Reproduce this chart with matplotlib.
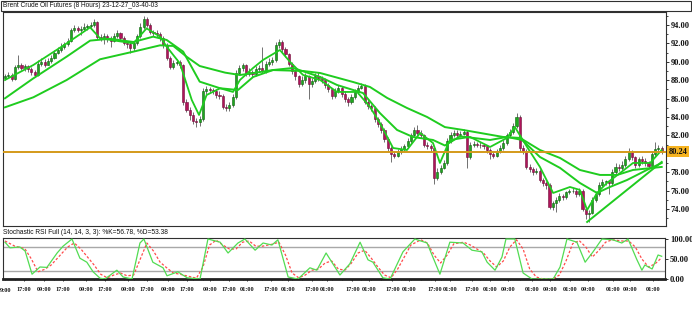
import matplotlib
matplotlib.use("Agg")
import matplotlib.pyplot as plt
import matplotlib.transforms as mtransforms
from matplotlib.patches import Rectangle
import numpy as np

# 8 hour bars, oldest first
opens = [
    88.2, 88.4, 88.6, 88.1, 89.4, 89.6, 89.3, 89.5, 89.2, 88.9,
    88.6, 89.8, 90.0, 89.7, 90.1, 90.4, 91.0, 91.3, 91.6, 91.9,
    92.3, 93.4, 93.7, 93.5, 93.6, 93.8, 93.9, 94.0, 94.3, 92.7,
    92.6, 92.8, 92.5, 92.3, 92.8, 93.1, 92.6, 92.0, 91.9, 91.5,
    92.0, 92.8, 93.8, 94.7, 94.0, 93.2, 93.1, 93.0, 92.6, 91.8,
    90.4, 89.4, 89.9, 90.0, 89.6, 85.6, 84.8, 84.2, 83.6, 83.5,
    83.8, 86.8, 87.0, 86.9, 86.8, 86.4, 86.3, 85.1, 85.0, 85.3,
    86.2, 88.8, 89.3, 89.6, 88.7, 88.9, 88.7, 89.2, 89.3, 89.0,
    89.8, 90.0, 90.2, 91.8, 92.2, 91.4, 90.8, 89.8, 89.0, 88.4,
    87.6, 88.0, 88.4, 87.6, 87.9, 88.5, 88.2, 88.0, 87.5, 87.0,
    86.3, 86.8, 87.2, 86.5, 86.0, 85.6, 86.2, 86.7, 87.2, 87.4,
    85.6, 85.2, 85.0, 83.8, 83.2, 82.6, 81.6, 80.6, 80.0, 79.8,
    80.2, 80.5, 80.8, 81.4, 82.0, 82.6, 82.3, 82.0, 81.0, 80.8,
    80.6, 77.4, 78.0, 78.5, 79.0, 81.4, 82.0, 82.3, 82.0, 82.2,
    82.4, 79.6, 81.0, 81.1, 81.0, 80.9, 80.8, 80.4, 80.0, 79.8,
    80.3, 80.6, 81.2, 82.0, 82.4, 83.0, 84.0, 80.6, 80.3, 78.6,
    78.3, 78.0, 78.1, 77.2, 76.8, 76.6, 74.2, 74.6, 75.0, 75.4,
    75.3, 75.8, 75.9, 76.0, 75.6, 76.0, 74.0, 73.4, 73.6, 75.0,
    75.6, 76.6, 76.9, 77.0, 76.8, 78.0, 78.6, 78.5, 78.8, 79.4,
    80.2, 79.6, 78.8, 79.4, 79.2, 79.0, 78.7, 80.0, 80.5, 80.6,
]
highs = [
    88.7, 88.9, 88.8, 89.7, 90.7, 89.9, 89.8, 89.7, 89.4, 89.1,
    90.2, 90.4, 90.3, 90.4, 90.7, 91.3, 91.6, 92.0, 92.2, 92.6,
    93.7, 94.0, 93.9, 93.9, 94.2, 94.1, 94.3, 94.6, 94.4, 93.0,
    93.1, 93.0, 92.8, 93.1, 93.4, 93.2, 92.8, 92.3, 92.1, 92.2,
    93.0, 94.2, 95.0, 94.9, 94.2, 93.5, 93.4, 93.2, 92.8, 92.0,
    90.6, 90.2, 90.3, 90.2, 89.8, 85.9, 85.1, 84.5, 83.9, 84.1,
    87.1, 87.4, 87.3, 87.2, 87.0, 86.8, 86.5, 85.4, 85.6, 86.5,
    89.1, 89.7, 89.9, 89.8, 89.3, 89.1, 89.5, 89.6, 91.6, 90.1,
    90.4, 90.5, 92.2, 92.5, 92.4, 91.6, 91.0, 90.0, 89.2, 88.6,
    88.4, 88.8, 88.6, 88.2, 88.8, 88.9, 88.5, 88.2, 87.7, 87.2,
    87.1, 87.5, 87.4, 86.8, 86.2, 86.5, 87.0, 87.5, 87.7, 87.6,
    85.9, 85.4, 85.2, 84.0, 83.4, 82.8, 81.8, 80.8, 80.3, 80.5,
    80.8, 81.1, 81.7, 82.3, 82.9, 83.1, 82.6, 82.2, 81.3, 81.1,
    80.8, 78.4, 78.8, 79.3, 81.7, 82.4, 82.6, 82.6, 82.5, 82.7,
    82.6, 81.3, 81.4, 81.3, 81.3, 81.1, 81.0, 80.6, 80.2, 80.5,
    80.9, 81.5, 82.3, 82.7, 83.3, 84.4, 84.2, 80.9, 80.5, 78.9,
    78.6, 78.4, 78.3, 77.4, 77.0, 76.8, 74.9, 75.3, 75.7, 75.6,
    76.0, 76.2, 76.3, 76.2, 76.3, 76.2, 74.2, 73.9, 75.3, 75.9,
    76.9, 77.3, 77.2, 77.2, 78.3, 79.0, 78.9, 79.2, 79.8, 80.6,
    80.4, 79.8, 79.7, 79.8, 79.5, 79.2, 80.3, 81.3, 80.9, 80.8,
]
lows = [
    88.0, 88.2, 87.9, 88.0, 89.2, 89.1, 89.0, 88.9, 88.6, 88.3,
    88.5, 89.5, 89.4, 89.6, 89.9, 90.3, 90.8, 91.1, 91.4, 91.7,
    92.1, 93.2, 93.2, 92.9, 93.4, 93.5, 93.6, 93.8, 92.5, 92.3,
    91.9, 92.2, 91.6, 92.1, 92.6, 92.3, 91.8, 91.5, 91.0, 91.2,
    91.8, 92.6, 93.6, 93.8, 93.0, 92.8, 92.7, 92.3, 91.5, 90.2,
    89.2, 89.2, 89.7, 89.3, 85.3, 84.5, 83.7, 83.2, 82.9, 83.0,
    83.6, 86.5, 86.6, 86.5, 86.1, 86.0, 84.9, 84.6, 84.7, 85.1,
    86.0, 88.6, 89.0, 88.4, 88.5, 88.3, 88.5, 88.9, 88.8, 88.8,
    89.5, 89.7, 90.0, 91.5, 91.1, 90.5, 89.5, 88.7, 88.0, 87.3,
    87.4, 87.7, 86.0, 87.3, 87.7, 87.9, 87.7, 87.2, 86.7, 86.0,
    86.1, 86.6, 86.2, 85.6, 85.2, 85.4, 86.0, 86.5, 87.0, 85.4,
    84.9, 84.7, 83.5, 82.9, 82.3, 81.3, 80.3, 79.1, 79.5, 79.6,
    80.0, 80.3, 80.6, 81.2, 81.8, 82.0, 81.7, 80.7, 80.5, 80.2,
    76.7, 77.1, 77.8, 78.3, 78.8, 81.2, 81.8, 81.7, 81.8, 82.0,
    78.4, 79.4, 80.7, 80.7, 80.6, 80.5, 80.1, 79.4, 79.5, 79.6,
    80.1, 80.4, 81.0, 81.8, 82.2, 82.8, 80.2, 80.0, 78.3, 78.0,
    77.7, 77.8, 76.9, 76.5, 76.2, 74.0, 73.9, 73.7, 74.8, 75.0,
    75.1, 75.6, 75.7, 75.3, 75.4, 73.8, 72.9, 72.6, 73.4, 74.8,
    75.4, 76.4, 76.6, 75.6, 76.6, 77.8, 78.1, 78.2, 78.6, 79.2,
    79.3, 78.5, 78.6, 78.9, 78.7, 78.4, 78.5, 79.8, 80.2, 80.0,
]
closes = [
    88.4, 88.6, 88.1, 89.4, 89.6, 89.3, 89.5, 89.2, 88.9, 88.6,
    89.8, 90.0, 89.7, 90.1, 90.4, 91.0, 91.3, 91.6, 91.9, 92.3,
    93.4, 93.7, 93.5, 93.6, 93.8, 93.9, 94.0, 94.3, 92.7, 92.6,
    92.8, 92.5, 92.3, 92.8, 93.1, 92.6, 92.0, 91.9, 91.5, 92.0,
    92.8, 93.8, 94.7, 94.0, 93.2, 93.1, 93.0, 92.6, 91.8, 90.4,
    89.4, 89.9, 90.0, 89.6, 85.6, 84.8, 84.2, 83.6, 83.5, 83.8,
    86.8, 87.0, 86.9, 86.8, 86.4, 86.3, 85.1, 85.0, 85.3, 86.2,
    88.8, 89.3, 89.6, 88.7, 88.9, 88.7, 89.2, 89.3, 89.0, 89.8,
    90.0, 90.2, 91.8, 92.2, 91.4, 90.8, 89.8, 89.0, 88.4, 87.6,
    88.0, 88.4, 87.6, 87.9, 88.5, 88.2, 88.0, 87.5, 87.0, 86.3,
    86.8, 87.2, 86.5, 86.0, 85.6, 86.2, 86.7, 87.2, 87.4, 85.6,
    85.2, 85.0, 83.8, 83.2, 82.6, 81.6, 80.6, 80.0, 79.8, 80.2,
    80.5, 80.8, 81.4, 82.0, 82.6, 82.3, 82.0, 81.0, 80.8, 80.6,
    77.4, 78.0, 78.5, 79.0, 81.4, 82.0, 82.3, 82.0, 82.2, 82.4,
    79.6, 81.0, 81.1, 81.0, 80.9, 80.8, 80.4, 80.0, 79.8, 80.3,
    80.6, 81.2, 82.0, 82.4, 83.0, 84.0, 80.6, 80.3, 78.6, 78.3,
    78.0, 78.1, 77.2, 76.8, 76.6, 74.2, 74.6, 75.0, 75.4, 75.3,
    75.8, 75.9, 76.0, 75.6, 76.0, 74.0, 73.4, 73.6, 75.0, 75.6,
    76.6, 76.9, 77.0, 76.8, 78.0, 78.6, 78.5, 78.8, 79.4, 80.2,
    79.6, 78.8, 79.4, 79.2, 79.0, 78.7, 80.0, 80.5, 80.6, 80.24,
]
last_price = 80.24

# moving averages: bar position, price
ma_fast_bar = [0, 8.6, 18.7, 25.8, 28.8, 38.9, 42.9, 47, 49, 53, 56.6, 58.8, 61.1, 65.2,
               69.1, 71.2, 75.2, 78.2, 83.3, 86.4, 90.3, 95.5, 100.6, 106.7, 110.6, 113.6,
               117.6, 121.8, 125.8, 129.7, 131.8, 134.8, 140.9, 147, 152.1, 154.5, 158.2,
               162.1, 166.1, 171.2, 174.2, 176.4, 179.4, 182.4, 186.4, 190.3, 195.5, 199]
ma_fast = [88.02, 89.65, 92.0, 93.74, 92.55, 92.0, 93.63, 92.73, 91.64, 89.83, 85.85, 84.22,
           86.39, 87.12, 86.72, 88.02, 89.33, 90.2, 91.28, 89.98, 88.57, 88.02, 86.72, 86.72,
           85.09, 83.35, 80.63, 80.41, 82.26, 81.17, 79.0, 81.5, 81.83, 80.74, 81.72, 82.91,
           80.74, 78.57, 75.74, 76.39, 76.07, 73.89, 75.74, 76.83, 77.91, 79.0, 79.0, 80.41]
ma_mid_bar = [0, 8.6, 18.7, 25.8, 31.8, 38.9, 44.9, 49, 54, 59, 65.2, 70.6, 75.2, 81.2, 87.3,
              95.5, 100.6, 108.5, 113.6, 118.8, 123.6, 129.7, 133.3, 137.9, 147, 152.1,
              156.7, 162.1, 168.2, 174.2, 179.4, 183.3, 188.5, 194.5, 199]
ma_mid = [86.03, 88.2, 90.56, 92.3, 92.5, 92.15, 92.73, 92.37, 91.1, 87.84, 87.12, 86.93,
          88.35, 89.1, 89.33, 88.35, 87.48, 86.6, 84.43, 82.59, 81.83, 81.5, 80.9, 81.9,
          81.5, 81.83, 81.5, 79.65, 78.46, 76.83, 75.74, 76.39, 77.15, 78.24, 79.0]
ma_slow_bar = [0, 8.6, 18.7, 28.8, 38.9, 47, 51, 55, 59, 66.7, 71.2, 81.2, 90.3, 95.5, 105.5,
               110.6, 115.8, 121.8, 127.9, 133.3, 138.8, 150.9, 156.1, 162.1, 168.2, 174.2,
               180.3, 185.5, 190.3, 199]
ma_slow = [85.05, 86.14, 88.02, 90.27, 91.1, 91.79, 91.72, 90.56, 89.54, 88.82, 88.56, 89.1,
           89.0, 88.78, 87.8, 87.26, 86.07, 84.98, 84.0, 82.9, 82.59, 81.83, 81.72, 80.41,
           79.54, 78.24, 77.7, 77.7, 78.24, 78.57]
trend_bar = [176.4, 199]
trend_price = [72.59, 79.11]

# stochastic RSI full (14, 14, 3, 3)
k_bar = [0, 1.5, 4.5, 6.1, 8.2, 10.6, 12.7, 15.8, 17.6, 20.3, 22.7, 24.8, 26.7, 28.8, 30.3,
         33.9, 35.8, 38.5, 40.9, 42.1, 44.8, 47.9, 49.1, 52.4, 55.2, 59.1, 61.5, 65.2, 67.6,
         70.6, 72.7, 75.8, 78.2, 80.9, 82.7, 85.8, 88.8, 92.4, 94.5, 97.3, 101.5, 104.5,
         107.6, 110, 111.5, 114.5, 116.7, 120.6, 124.2, 127.9, 131.8, 134.8, 138.8, 141.5,
         144.5, 146.1, 148.5, 150.6, 151.8, 154.5, 157, 159.7, 166.1, 168.2, 170.3, 173.3,
         175.8, 178.2, 180.9, 184.2, 186.9, 188.8, 191.5, 193, 193.9, 196.1, 197.9, 199]
k_val = [92, 78, 80, 70, 12, 30, 29, 65, 82, 100, 52, 42, 18, 2, 0, 22, 5, 0, 90, 100, 42,
         28, 8, 18, 3, 0, 100, 92, 65, 90, 100, 72, 90, 85, 98, 5, 0, 28, 22, 65, 10, 38, 92,
         48, 42, 3, 0, 68, 100, 90, 12, 92, 90, 72, 68, 42, 22, 55, 100, 100, 15, 0, 0, 30,
         100, 92, 42, 68, 100, 98, 90, 100, 48, 22, 35, 25, 60, 56.78]
d_bar = [0, 3, 6, 8, 10, 12, 14, 17, 19, 21, 23, 25, 27, 29, 31, 33, 35, 37, 39, 41, 43, 45,
         47, 49, 51, 53, 55, 58, 60, 62, 64, 66, 68, 70, 72, 74, 76, 78, 81, 83, 85, 87, 89,
         91, 93, 95, 97, 99, 101, 103, 105, 107, 109, 111, 113, 115, 117, 119, 121, 123, 126,
         128, 130, 132, 134, 136, 139, 141, 143, 145, 147, 149, 151, 153, 155, 157, 159, 161,
         163, 166, 168, 170, 172, 174, 176, 178, 180, 182, 184, 187, 189, 191, 193, 195, 197,
         199]
d_val = [95, 82, 76, 50, 18, 24, 35, 62, 80, 90, 75, 55, 35, 12, 3, 10, 15, 8, 10, 50, 90,
         70, 42, 28, 15, 12, 8, 2, 30, 85, 97, 85, 75, 75, 92, 95, 82, 82, 87, 92, 60, 15, 3,
         10, 22, 25, 40, 45, 25, 22, 40, 65, 72, 52, 30, 10, 3, 25, 55, 85, 98, 90, 60, 40,
         60, 88, 92, 85, 75, 65, 45, 30, 45, 80, 98, 75, 25, 5, 0, 0, 10, 45, 88, 96, 80, 55,
         72, 92, 98, 95, 95, 80, 50, 30, 38, 53.38]

time_bar = [5.8, 11.8, 17.6, 24.5, 30.3, 37.3, 43.0, 49.4, 55.2, 62.1, 67.9, 73.3, 80.6, 85.8,
            93.0, 97.6, 105.3, 110.2, 117.4, 122.3, 130.2, 134.9, 141.5, 147.0, 152.4, 159.7,
            165.2, 171.2, 176.7, 184.2, 189.4, 196.4]
time_lbl = ["17:00", "09:00", "17:00", "09:00", "17:00", "09:00", "17:00", "09:00", "17:00",
            "09:00", "17:00", "01:00", "17:00", "01:00", "17:00", "01:00", "17:00", "01:00",
            "17:00", "01:00", "17:00", "01:00", "17:00", "01:00", "09:00", "01:00", "09:00",
            "01:00", "09:00", "01:00", "09:00", "01:00"]

W, H = 692, 310
sans = ["Liberation Sans", "DejaVu Sans"]
serif = ["Liberation Serif", "DejaVu Serif"]

fig = plt.figure(figsize=(W / 100, H / 100), dpi=100)
fig.patch.set_facecolor("white")


def box(x0, y0, x1, y1):
    # pixel box (top-left origin) -> figure fraction rect
    return [x0 / W, 1 - y1 / H, (x1 - x0) / W, (y1 - y0) / H]


# title strip
fig.patches.append(Rectangle((0.5 / W, 1 - 10.5 / H), 690.5 / W, 10 / H, transform=fig.transFigure,
                             facecolor="white", edgecolor="#303030", lw=0.8))
fig.text(3 / W, 1 - 5.6 / H, "Brent Crude Oil Futures (8 Hours) 23-12-27_03-40-03",
         family=sans, fontsize=4.7, va="center", ha="left", color="#111111")

ax = fig.add_axes(box(3, 12, 666, 226))
ax2 = fig.add_axes(box(3, 238, 665, 279))

bar_x = np.arange(len(closes))
o = np.array(opens)
c = np.array(closes)
up = c >= o
body = np.maximum(np.abs(c - o), 0.08)
ax.vlines(bar_x, lows, highs, color="#707070", lw=0.7, zorder=2)
ax.bar(bar_x[up], body[up], bottom=o[up], width=0.62, color="#1ea81e",
       edgecolor="#0d5e0d", lw=0.4, zorder=3)
ax.bar(bar_x[~up], body[~up], bottom=c[~up], width=0.62, color="#b0145a",
       edgecolor="#6e0c38", lw=0.4, zorder=3)

green = "#1fcc1f"
ax.plot(ma_slow_bar, ma_slow, color=green, lw=1.4, zorder=4)
ax.plot(ma_mid_bar, ma_mid, color=green, lw=1.4, zorder=4)
ax.plot(ma_fast_bar, ma_fast, color=green, lw=1.3, zorder=4)
ax.plot(trend_bar, trend_price, color=green, lw=1.4, zorder=4)
ax.axhline(last_price, color="#d49a1a", lw=1.4, zorder=5)

ax.set_xlim(-0.6, 200.3)
ax.set_ylim(72.15, 95.41)
ax.yaxis.tick_right()
price_ticks = [74, 76, 78, 82, 84, 86, 88, 90, 92, 94]
ax.set_yticks(price_ticks)
ax.set_yticklabels([f"{v:.2f}" for v in price_ticks])
ax.set_yticks(np.arange(73, 96, 1), minor=True)
ax.tick_params(axis="y", which="major", length=2, width=0.6, pad=1.5, labelsize=6,
               colors="#111111")
ax.tick_params(axis="y", which="minor", length=1.2, width=0.5)
ax.set_xticks([])
for lab in ax.get_yticklabels():
    lab.set_family(serif)
    lab.set_fontweight("bold")
for s in ax.spines.values():
    s.set_color("#303030")
    s.set_linewidth(0.8)

trans = mtransforms.blended_transform_factory(ax.transAxes, ax.transData)
ax.text(1.004, last_price, "80.24", transform=trans, ha="left", va="center", fontsize=6,
        family=serif, fontweight="bold", color="#111111",
        bbox=dict(facecolor="#f6b320", edgecolor="none", pad=0.9), zorder=6, clip_on=False)

# stochastic pane
fig.text(3 / W, 1 - 232 / H, "Stochastic RSI Full (14, 14, 3, 3): %K=56.78, %D=53.38",
         family=sans, fontsize=4.8, va="center", ha="left", color="#111111")
ax2.axhline(80, color="#a8a8a8", lw=1.0, zorder=1)
ax2.axhline(20, color="#a8a8a8", lw=1.0, zorder=1)
ax2.plot(d_bar, d_val, color="#ff4a4a", lw=0.9, dashes=(2, 1.5), zorder=3)
ax2.plot(k_bar, k_val, color="#52dc52", lw=0.9, zorder=4)
ax2.set_xlim(-0.6, 200.0)
ax2.set_ylim(0, 102.5)
ax2.yaxis.tick_right()
ax2.set_yticks([0, 50, 100])
ax2.set_yticklabels(["0.00", "50.00", "100.00"])
ax2.tick_params(axis="y", length=2, width=0.6, pad=1.5, labelsize=6, colors="#111111")
for lab in ax2.get_yticklabels():
    lab.set_family(serif)
    lab.set_fontweight("bold")
ax2.set_xticks(time_bar)
ax2.set_xticklabels(time_lbl)
ax2.set_xticks(np.arange(0, 200, 3), minor=True)
ax2.tick_params(axis="x", which="major", length=1.5, width=0.6, pad=4.2, labelsize=4.5,
                colors="#111111")
ax2.tick_params(axis="x", which="minor", length=1.0, width=0.5)
for lab in ax2.get_xticklabels():
    lab.set_family(serif)
    lab.set_fontweight("bold")
for s in ax2.spines.values():
    s.set_color("#303030")
    s.set_linewidth(0.8)
ax2.spines["bottom"].set_linewidth(2.0)
ax2.spines["bottom"].set_color("#202020")
fig.text(0, 1 - 290 / H, "9:00", family=serif, fontweight="bold", fontsize=4.5,
         va="center", ha="left", color="#111111")

fig.savefig("out.png", dpi=100)
